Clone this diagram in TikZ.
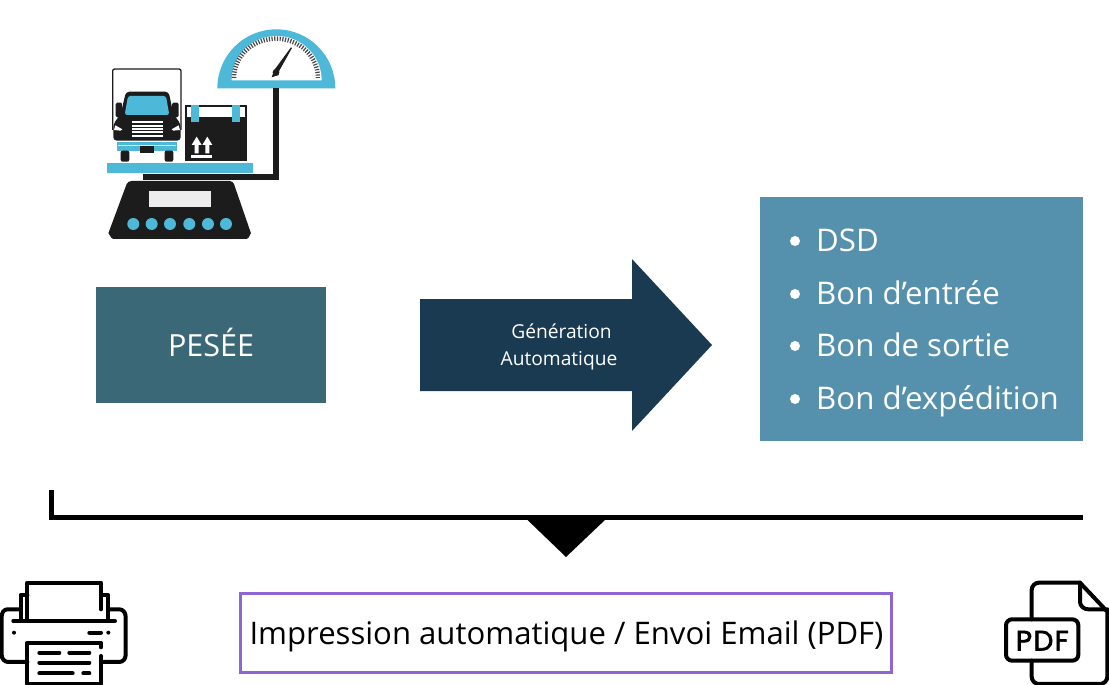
\documentclass[tikz,border=0pt]{standalone}
\usepackage{fontspec}
\setmainfont{Open Sans}
\newfontfamily\pdffont[FakeBold=2.4,LetterSpace=5]{Poppins}
\definecolor{teal1}{HTML}{3B6877}
\definecolor{navy1}{HTML}{1A3A52}
\definecolor{blue1}{HTML}{5591AC}
\definecolor{purple1}{HTML}{8E66D3}
\definecolor{sky1}{HTML}{4DB8D8}
\definecolor{ink1}{HTML}{1C1C1C}
\newcommand{\px}[1]{\fontsize{#1}{#1}\selectfont}
\tikzset{
  box/.style={draw=none,minimum width=0,inner sep=0},
  listtext/.style={anchor=base west,inner sep=0,text=white,font=\px{31.2}},
  bulletdot/.style={fill=white,circle,inner sep=0,minimum size=10pt},
  icon/.style={line width=4pt,line cap=round,line join=round,draw=black},
}
\begin{document}
\begin{tikzpicture}[x=1pt,y=-1pt]
\useasboundingbox (0,0) rectangle (1109,685);
\fill[white] (0,0) rectangle (1109,685);

% scale icon (reference zoom coordinates)
\begin{scope}[shift={(90,20)},x=0.3333pt,y=-0.3333pt]
  % dial
  \fill[sky1] (382,205) arc[start angle=180,end angle=360,x radius=177,y radius=177] -- cycle;
  \fill[white] (425,181) arc[start angle=180,end angle=360,x radius=135,y radius=133] -- cycle;
  \draw[ink1!80,line width=4.5pt,dash pattern=on 1.2pt off 1.5pt]
    (432,174) arc[start angle=180,end angle=360,x radius=126,y radius=118];
  \fill[ink1] (545,172) -- (553,150) -- (603,82) -- (606,84) -- (568,152) -- (566,165) -- cycle;
  \fill[ink1] (558,157) circle[radius=10];
  % post and arm
  \fill[ink1] (548,205) rectangle (568,480);
  \fill[ink1] (158,462) rectangle (568,480);
  % base
  \fill[ink1] (125,483) -- (420,483) to[out=-20,in=110] (432,492) -- (483,640)
     to[out=85,in=0] (470,657) -- (70,657) to[out=180,in=95] (55,640) -- (110,492) to[out=70,in=190] cycle;
  \fill[ink1!8] (177,512) rectangle (362,562);
  \foreach \cx in {130,185,240,298,354,408} \fill[sky1] (\cx,612) circle[radius=18];
  % platform
  \fill[sky1] (50,428) rectangle (490,460);
  % truck box
  \draw[ink1,fill=white,line width=1.3pt,rounded corners=2pt] (68,330) -- (68,147) -- (273,147) -- (273,330);
  % crate
  \fill[ink1] (284,255) rectangle (470,423);
  \fill[white] (290,262) rectangle (464,290);
  \fill[sky1] (303,255) -- (327,255) -- (327,305) -- (303,305) -- cycle;
  \fill[sky1] (425,255) -- (450,255) -- (450,305) -- (425,305) -- cycle;
  \foreach \ax in {320,352} {
    \fill[white] (\ax-15,375) -- (\ax,350) -- (\ax+15,375) -- (\ax+6,375) -- (\ax+6,400) -- (\ax-6,400) -- (\ax-6,375) -- cycle;
  }
  \fill[white] (303,406) rectangle (367,413);
  % mirrors
  \fill[ink1,rounded corners=1.5pt] (77,248) rectangle (97,292);
  \fill[ink1,rounded corners=1.5pt] (246,248) rectangle (266,292);
  \fill[white] (96,245) rectangle (100,294);
  \fill[white] (243,245) rectangle (247,294);
  % cab
  \fill[ink1,rounded corners=3.5pt] (108,215) -- (236,215) -- (250,282) -- (272,312) -- (272,362) -- (70,362) -- (70,312) -- (92,282) -- cycle;
  \fill[sky1,rounded corners=2.5pt] (114,228) -- (228,228) -- (238,285) -- (104,285) -- cycle;
  \fill[white] (76,316) -- (97,328) -- (92,332) -- (72,330) -- cycle;
  \fill[white] (266,316) -- (245,328) -- (250,332) -- (270,330) -- cycle;
  \foreach \gy in {304,314,324,334,344} \fill[white] (125,\gy) rectangle (218,\gy+6);
  % bumper, wheels
  \fill[sky1] (80,365) rectangle (262,392);
  \fill[white,opacity=.75] (84,374) rectangle (258,379);
  \fill[ink1] (150,378) rectangle (192,400);
  \fill[ink1,rounded corners=2pt] (92,392) rectangle (118,425);
  \fill[ink1,rounded corners=2pt] (224,392) rectangle (250,425);
\end{scope}

% main boxes
\node[box,fill=teal1,minimum width=230pt,minimum height=116pt] (pesee) at (211,345) {};
\node[text=white,font=\px{30.5},inner sep=0] (peseelabel) at (211,342.5) {PESÉE};
\fill[navy1] (420,299) -- (632,299) -- (632,259) -- (712,345) -- (632,431) -- (632,391) -- (420,391) -- cycle;
\node[text=white,font=\px{19.2},align=center,inner sep=0] (gen) at (559,347) {\hspace*{5pt}Génération\\[7.5pt]Automatique};

\node[box,fill=blue1,minimum width=323pt,minimum height=244pt] (docs) at (921.5,319) {};
\foreach \nm/\by/\tx in {a/251/DSD,b/304/Bon d’entrée,c/356/Bon de sortie,d/409/Bon d’expédition}{
  \node[listtext] (t\nm) at (816,\by) {\tx};
  \node[bulletdot] (b\nm) at (795,\by-10) {};
}

% bracket
\coordinate (brA) at (51,490);
\coordinate (brB) at (51,517);
\coordinate (brC) at (1083,517);
\draw[black,line width=5pt] (brA) -- (brB) -- (brC);
\fill[black] (526.5,519) -- (606,519) -- (566,557) -- cycle;

% output box
\node[draw=purple1,line width=3pt,fill=white,minimum width=651pt,minimum height=79pt,inner sep=0] (out) at (566,633) {};
\node[text=black,font=\px{31.1},inner sep=0] (outlabel) at (566.5,636) {Impression automatique / Envoi Email (PDF)};

% printer
\begin{scope}[shift={(0,570)},x=0.3333pt,y=-0.3333pt]
  \draw[icon] (62,118) -- (22,118) to[out=180,in=90] (5,140) -- (5,255) to[out=-90,in=180] (25,276) -- (82,276);
  \draw[icon] (325,118) -- (358,118) to[out=0,in=90] (377,140) -- (377,255) to[out=-90,in=0] (358,276) -- (303,276);
  \draw[icon] (62,150) -- (62,75) -- (82,75);
  \draw[icon] (303,75) -- (325,75) -- (325,150);
  \draw[icon] (82,150) -- (82,38) -- (303,38) -- (303,118);
  \draw[icon] (40,153) -- (345,153);
  \fill (42,188) circle[radius=6];
  \fill (325,188) circle[radius=6];
  \draw[icon] (268,188) -- (303,188);
  \draw[icon] (303,232) -- (303,218) -- (82,218) -- (82,342) -- (303,342) -- (303,258);
  \draw[icon] (118,248) -- (178,248) (208,248) -- (268,248);
  \draw[icon] (118,278) -- (268,278);
  \draw[icon] (118,310) -- (218,310) (250,310) -- (268,310);
\end{scope}

% pdf file
\begin{scope}[shift={(990,570)},x=0.3333pt,y=-0.3333pt]
  \draw[icon] (125,148) -- (125,60) to[out=90,in=180] (147,38) -- (270,38) -- (352,125) -- (352,320) to[out=-90,in=0] (330,342) -- (147,342) to[out=180,in=-90] (125,320) -- (125,272);
  \draw[icon] (270,38) -- (270,95) to[out=-90,in=180] (295,118) -- (352,118);
  \draw[icon,rounded corners=6pt] (48,148) rectangle (265,272);
  \node[inner sep=0,font={\pdffont\px{28}},text=black] (pdf) at (157,212) {PDF};
\end{scope}
\end{tikzpicture}
\end{document}
